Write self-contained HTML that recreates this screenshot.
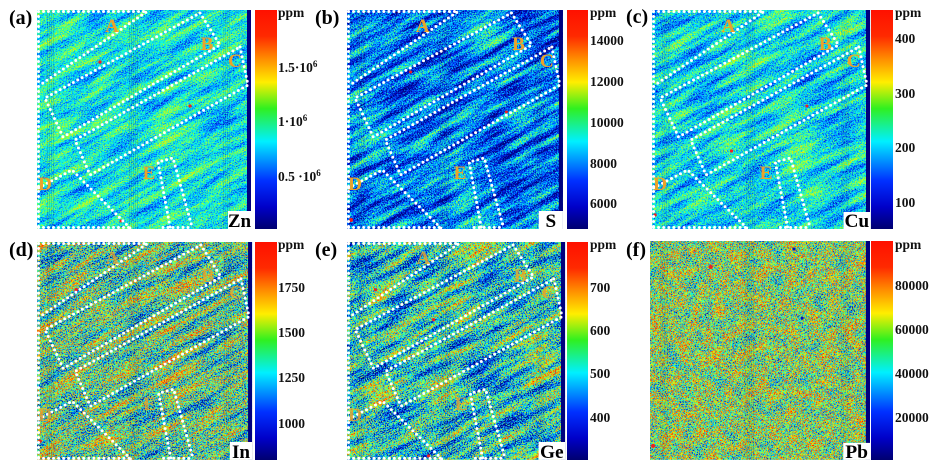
<!DOCTYPE html>
<html><head><meta charset="utf-8"><style>
html,body{margin:0;padding:0;background:#fff;width:945px;height:468px;overflow:hidden;}
svg{display:block;}
text{font-family:"Liberation Serif",serif;font-weight:bold;}
.tk{font-size:13.5px;fill:#111;}
.pl{font-size:20px;fill:#000;}
.el{font-size:19px;fill:#000;text-anchor:middle;}
.rg{font-size:19px;fill:#eba22a;text-anchor:middle;}
</style></head><body>
<svg width="945" height="468" viewBox="0 0 945 468" xmlns="http://www.w3.org/2000/svg" overflow="hidden">
<defs>
<linearGradient id="cb" x1="0" y1="0" x2="0" y2="1">
<stop offset="0" stop-color="#ff1000"/>
<stop offset="0.12" stop-color="#ff2a00"/>
<stop offset="0.22" stop-color="#ff8a00"/>
<stop offset="0.33" stop-color="#ffee00"/>
<stop offset="0.45" stop-color="#30f020"/>
<stop offset="0.6" stop-color="#00f0ff"/>
<stop offset="0.78" stop-color="#0030ff"/>
<stop offset="0.9" stop-color="#0000c8"/>
<stop offset="1" stop-color="#000070"/>
</linearGradient>
<pattern id="vs" width="2" height="4" patternUnits="userSpaceOnUse"><rect width="1" height="4" fill="#000"/></pattern>

<filter id="fa" x="0" y="0" width="1" height="1" color-interpolation-filters="sRGB">
<feTurbulence type="fractalNoise" baseFrequency="0.02 0.14" numOctaves="3" seed="2" result="t1"/>
<feColorMatrix in="t1" type="matrix" values="1 0 0 0 0 0 1 0 0 0 0 0 1 0 0 0 0 0 0 1" result="n1"/>
<feTurbulence type="fractalNoise" baseFrequency="0.9" numOctaves="1" seed="7" result="t2"/>
<feColorMatrix in="t2" type="matrix" values="1 0 0 0 0 0 1 0 0 0 0 0 1 0 0 0 0 0 0 1" result="n2"/>
<feComposite in="n1" in2="n2" operator="arithmetic" k1="0" k2="0.35" k3="0.65" k4="0" result="n"/>
<feColorMatrix in="n" type="matrix" values="1.4 0 0 0 -0.33 1.4 0 0 0 -0.33 1.4 0 0 0 -0.33 0 0 0 0 1"/>
<feComponentTransfer>
<feFuncR type="table" tableValues="0 0 0 0 0.4 1 1 1 1"/>
<feFuncG type="table" tableValues="0 0.1 0.55 1 1 1 0.6 0.2 0.05"/>
<feFuncB type="table" tableValues="0.45 1 1 1 0.3 0 0 0 0"/>
</feComponentTransfer>
</filter>
<filter id="fb" x="0" y="0" width="1" height="1" color-interpolation-filters="sRGB">
<feTurbulence type="fractalNoise" baseFrequency="0.02 0.14" numOctaves="3" seed="11" result="t1"/>
<feColorMatrix in="t1" type="matrix" values="1 0 0 0 0 0 1 0 0 0 0 0 1 0 0 0 0 0 0 1" result="n1"/>
<feTurbulence type="fractalNoise" baseFrequency="0.9" numOctaves="1" seed="17" result="t2"/>
<feColorMatrix in="t2" type="matrix" values="1 0 0 0 0 0 1 0 0 0 0 0 1 0 0 0 0 0 0 1" result="n2"/>
<feComposite in="n1" in2="n2" operator="arithmetic" k1="0" k2="0.4" k3="0.6" k4="0" result="n"/>
<feColorMatrix in="n" type="matrix" values="1.8 0 0 0 -0.67 1.8 0 0 0 -0.67 1.8 0 0 0 -0.67 0 0 0 0 1"/>
<feComponentTransfer>
<feFuncR type="table" tableValues="0 0 0 0 0.4 1 1 1 1"/>
<feFuncG type="table" tableValues="0 0.1 0.55 1 1 1 0.6 0.2 0.05"/>
<feFuncB type="table" tableValues="0.45 1 1 1 0.3 0 0 0 0"/>
</feComponentTransfer>
</filter>
<filter id="fc" x="0" y="0" width="1" height="1" color-interpolation-filters="sRGB">
<feTurbulence type="fractalNoise" baseFrequency="0.02 0.14" numOctaves="3" seed="23" result="t1"/>
<feColorMatrix in="t1" type="matrix" values="1 0 0 0 0 0 1 0 0 0 0 0 1 0 0 0 0 0 0 1" result="n1"/>
<feTurbulence type="fractalNoise" baseFrequency="0.9" numOctaves="1" seed="29" result="t2"/>
<feColorMatrix in="t2" type="matrix" values="1 0 0 0 0 0 1 0 0 0 0 0 1 0 0 0 0 0 0 1" result="n2"/>
<feComposite in="n1" in2="n2" operator="arithmetic" k1="0" k2="0.35" k3="0.65" k4="0" result="n"/>
<feColorMatrix in="n" type="matrix" values="1.5 0 0 0 -0.40 1.5 0 0 0 -0.40 1.5 0 0 0 -0.40 0 0 0 0 1"/>
<feComponentTransfer>
<feFuncR type="table" tableValues="0 0 0 0 0.4 1 1 1 1"/>
<feFuncG type="table" tableValues="0 0.1 0.55 1 1 1 0.6 0.2 0.05"/>
<feFuncB type="table" tableValues="0.45 1 1 1 0.3 0 0 0 0"/>
</feComponentTransfer>
</filter>
<filter id="fd" x="0" y="0" width="1" height="1" color-interpolation-filters="sRGB">
<feTurbulence type="fractalNoise" baseFrequency="0.02 0.14" numOctaves="3" seed="31" result="t1"/>
<feColorMatrix in="t1" type="matrix" values="1 0 0 0 0 0 1 0 0 0 0 0 1 0 0 0 0 0 0 1" result="n1"/>
<feTurbulence type="fractalNoise" baseFrequency="0.9" numOctaves="1" seed="37" result="t2"/>
<feColorMatrix in="t2" type="matrix" values="1 0 0 0 0 0 1 0 0 0 0 0 1 0 0 0 0 0 0 1" result="n2"/>
<feComposite in="n1" in2="n2" operator="arithmetic" k1="0" k2="0.3" k3="0.7" k4="0" result="n"/>
<feColorMatrix in="n" type="matrix" values="3.0 0 0 0 -1.05 3.0 0 0 0 -1.05 3.0 0 0 0 -1.05 0 0 0 0 1"/>
<feComponentTransfer>
<feFuncR type="table" tableValues="0 0 0 0 0.4 1 1 1 1"/>
<feFuncG type="table" tableValues="0 0.1 0.55 1 1 1 0.6 0.2 0.05"/>
<feFuncB type="table" tableValues="0.45 1 1 1 0.3 0 0 0 0"/>
</feComponentTransfer>
</filter>
<filter id="fe" x="0" y="0" width="1" height="1" color-interpolation-filters="sRGB">
<feTurbulence type="fractalNoise" baseFrequency="0.02 0.14" numOctaves="3" seed="41" result="t1"/>
<feColorMatrix in="t1" type="matrix" values="1 0 0 0 0 0 1 0 0 0 0 0 1 0 0 0 0 0 0 1" result="n1"/>
<feTurbulence type="fractalNoise" baseFrequency="0.9" numOctaves="1" seed="43" result="t2"/>
<feColorMatrix in="t2" type="matrix" values="1 0 0 0 0 0 1 0 0 0 0 0 1 0 0 0 0 0 0 1" result="n2"/>
<feComposite in="n1" in2="n2" operator="arithmetic" k1="0" k2="0.35" k3="0.65" k4="0" result="n"/>
<feColorMatrix in="n" type="matrix" values="2.7 0 0 0 -0.98 2.7 0 0 0 -0.98 2.7 0 0 0 -0.98 0 0 0 0 1"/>
<feComponentTransfer>
<feFuncR type="table" tableValues="0 0 0 0 0.4 1 1 1 1"/>
<feFuncG type="table" tableValues="0 0.1 0.55 1 1 1 0.6 0.2 0.05"/>
<feFuncB type="table" tableValues="0.45 1 1 1 0.3 0 0 0 0"/>
</feComponentTransfer>
</filter>
<filter id="ff" x="0" y="0" width="1" height="1" color-interpolation-filters="sRGB">
<feTurbulence type="fractalNoise" baseFrequency="0.08" numOctaves="2" seed="53" result="t1"/>
<feColorMatrix in="t1" type="matrix" values="1 0 0 0 0 0 1 0 0 0 0 0 1 0 0 0 0 0 0 1" result="n1"/>
<feTurbulence type="fractalNoise" baseFrequency="0.9" numOctaves="1" seed="59" result="t2"/>
<feColorMatrix in="t2" type="matrix" values="1 0 0 0 0 0 1 0 0 0 0 0 1 0 0 0 0 0 0 1" result="n2"/>
<feComposite in="n1" in2="n2" operator="arithmetic" k1="0" k2="0.2" k3="0.8" k4="0" result="n"/>
<feColorMatrix in="n" type="matrix" values="2.6 0 0 0 -0.78 2.6 0 0 0 -0.78 2.6 0 0 0 -0.78 0 0 0 0 1"/>
<feComponentTransfer>
<feFuncR type="table" tableValues="0 0 0 0 0.4 1 1 1 1"/>
<feFuncG type="table" tableValues="0 0.1 0.55 1 1 1 0.6 0.2 0.05"/>
<feFuncB type="table" tableValues="0.45 1 1 1 0.3 0 0 0 0"/>
</feComponentTransfer>
</filter>

<pattern id="pa" patternUnits="userSpaceOnUse" patternContentUnits="userSpaceOnUse" x="-200" y="-200" width="600" height="600" patternTransform="rotate(-29 107 110)"><rect x="0" y="0" width="600" height="600" filter="url(#fa)"/></pattern>
<pattern id="pb" patternUnits="userSpaceOnUse" patternContentUnits="userSpaceOnUse" x="-200" y="-200" width="600" height="600" patternTransform="rotate(-29 107 110)"><rect x="0" y="0" width="600" height="600" filter="url(#fb)"/></pattern>
<pattern id="pc" patternUnits="userSpaceOnUse" patternContentUnits="userSpaceOnUse" x="-200" y="-200" width="600" height="600" patternTransform="rotate(-29 107 110)"><rect x="0" y="0" width="600" height="600" filter="url(#fc)"/></pattern>
<pattern id="pd" patternUnits="userSpaceOnUse" patternContentUnits="userSpaceOnUse" x="-200" y="-200" width="600" height="600" patternTransform="rotate(-29 107 110)"><rect x="0" y="0" width="600" height="600" filter="url(#fd)"/></pattern>
<pattern id="pe" patternUnits="userSpaceOnUse" patternContentUnits="userSpaceOnUse" x="-200" y="-200" width="600" height="600" patternTransform="rotate(-29 107 110)"><rect x="0" y="0" width="600" height="600" filter="url(#fe)"/></pattern>
<pattern id="pf" patternUnits="userSpaceOnUse" patternContentUnits="userSpaceOnUse" x="-200" y="-200" width="600" height="600" patternTransform="rotate(-29 107 110)"><rect x="0" y="0" width="600" height="600" filter="url(#ff)"/></pattern>

<g id="dots" fill="none" stroke="#fff" stroke-width="3" stroke-linecap="round" stroke-dasharray="0 5">
<path d="M1.5,1.5 V217.5"/>
<path d="M1.5,1.5 H110 L3,75"/>
<path d="M1.5,217.5 H93"/>
<path d="M126,217.5 H156"/>
<path d="M163,3 L183,35 L26,127 L8,88 Z"/>
<path d="M203,37 L211,75 L53,165 L38,130 Z"/>
<path d="M1.5,178 L35,160 L93,218"/>
<path d="M133,217 L121,152 L136,148 L155,217"/>
</g>
<g id="strip">
<rect x="10" y="0" width="8" height="219" fill="url(#vs)" opacity="0.12"/>
<rect x="92" y="0" width="10" height="219" fill="url(#vs)" opacity="0.12"/>
<rect x="186" y="0" width="8" height="219" fill="url(#vs)" opacity="0.1"/>
<rect x="210" y="0" width="4" height="219" fill="#00007e"/>
</g>
</defs>

<rect width="945" height="468" fill="#fff"/>

<!-- (a) Zn -->
<g transform="translate(37,10)">
<rect width="214" height="219" fill="url(#pa)"/>
<use href="#strip"/>
<circle cx="63" cy="52" r="1.6" fill="#e22"/><circle cx="153" cy="96" r="1.6" fill="#e22"/><circle cx="84" cy="211" r="1.5" fill="#e22"/>
<use href="#dots"/>
<text class="rg" x="75" y="22">A</text><text class="rg" x="170" y="40">B</text><text class="rg" x="198" y="57">C</text><text class="rg" x="8" y="180">D</text><text class="rg" x="112" y="169">E</text>
<rect x="191" y="201" width="23" height="18" fill="#fff"/>
<text class="el" x="202.5" y="217">Zn</text>
</g>
<rect x="255" y="10" width="22" height="219" fill="url(#cb)"/>
<text class="pl" x="9" y="24">(a)</text>
<text class="tk" x="278" y="17">ppm</text>
<text class="tk" x="278" y="72">1.5·10<tspan font-size="9" dy="-5">6</tspan></text>
<text class="tk" x="278" y="126">1·10<tspan font-size="9" dy="-5">6</tspan></text>
<text class="tk" x="278" y="181">0.5 ·10<tspan font-size="9" dy="-5">6</tspan></text>

<!-- (b) S -->
<g transform="translate(347,10) scale(1.009,1)">
<rect width="214" height="219" fill="url(#pb)"/>
<use href="#strip"/>
<circle cx="4" cy="210" r="2" fill="#e22"/><circle cx="63" cy="62" r="1.5" fill="#e22"/><circle cx="158" cy="102" r="1.5" fill="#e22"/>
<use href="#dots"/>
<text class="rg" x="75" y="22">A</text><text class="rg" x="170" y="40">B</text><text class="rg" x="198" y="57">C</text><text class="rg" x="8" y="180">D</text><text class="rg" x="112" y="169">E</text>
<rect x="190" y="201" width="24" height="18" fill="#fff"/>
<text class="el" x="202" y="217">S</text>
</g>
<rect x="567" y="10" width="21" height="219" fill="url(#cb)"/>
<text class="pl" x="315" y="24">(b)</text>
<text class="tk" x="590" y="17">ppm</text>
<text class="tk" x="590" y="45">14000</text>
<text class="tk" x="590" y="86">12000</text>
<text class="tk" x="590" y="127">10000</text>
<text class="tk" x="590" y="168">8000</text>
<text class="tk" x="590" y="208">6000</text>

<!-- (c) Cu -->
<g transform="translate(652,10) scale(1.019,1)">
<rect width="214" height="219" fill="url(#pc)"/>
<use href="#strip"/>
<circle cx="78" cy="141" r="1.6" fill="#e22"/><circle cx="152" cy="96" r="1.5" fill="#e22"/><circle cx="3" cy="205" r="1.6" fill="#e22"/>
<use href="#dots"/>
<text class="rg" x="75" y="22">A</text><text class="rg" x="170" y="40">B</text><text class="rg" x="198" y="57">C</text><text class="rg" x="8" y="180">D</text><text class="rg" x="112" y="169">E</text>
<rect x="188" y="202" width="26" height="17" fill="#fff"/>
<text class="el" x="201" y="217">Cu</text>
</g>
<rect x="871" y="10" width="22" height="219" fill="url(#cb)"/>
<text class="pl" x="626" y="23">(c)</text>
<text class="tk" x="895" y="17">ppm</text>
<text class="tk" x="895" y="43">400</text>
<text class="tk" x="895" y="98">300</text>
<text class="tk" x="895" y="152">200</text>
<text class="tk" x="895" y="207">100</text>

<!-- (d) In -->
<g transform="translate(37,242) scale(1.005,0.995)">
<rect width="214" height="219" fill="url(#pd)"/>
<use href="#strip"/>
<circle cx="39" cy="48" r="1.8" fill="#e22"/><circle cx="3" cy="200" r="1.8" fill="#e22"/>
<use href="#dots"/>
<g opacity="0.75"><text class="rg" x="75" y="22">A</text><text class="rg" x="170" y="40">B</text><text class="rg" x="198" y="57">C</text><text class="rg" x="8" y="180">D</text><text class="rg" x="112" y="169">E</text></g>
<rect x="192" y="201" width="22" height="18" fill="#fff"/>
<text class="el" x="203" y="217">In</text>
</g>
<rect x="255" y="242" width="22" height="218" fill="url(#cb)"/>
<text class="pl" x="9" y="256">(d)</text>
<text class="tk" x="278" y="249">ppm</text>
<text class="tk" x="278" y="292">1750</text>
<text class="tk" x="278" y="337">1500</text>
<text class="tk" x="278" y="382">1250</text>
<text class="tk" x="278" y="428">1000</text>

<!-- (e) Ge -->
<g transform="translate(347,242) scale(1.019,0.995)">
<rect width="214" height="219" fill="url(#pe)"/>
<use href="#strip"/>
<circle cx="28" cy="48" r="1.6" fill="#e22"/><circle cx="85" cy="78" r="1.6" fill="#e22"/><circle cx="80" cy="215" r="1.6" fill="#e22"/>
<use href="#dots"/>
<g opacity="0.8"><text class="rg" x="75" y="22">A</text><text class="rg" x="170" y="40">B</text><text class="rg" x="198" y="57">C</text><text class="rg" x="8" y="180">D</text><text class="rg" x="112" y="169">E</text></g>
<rect x="188" y="201" width="26" height="18" fill="#fff"/>
<text class="el" x="201" y="217">Ge</text>
</g>
<rect x="567" y="242" width="21" height="218" fill="url(#cb)"/>
<text class="pl" x="315" y="256">(e)</text>
<text class="tk" x="590" y="249">ppm</text>
<text class="tk" x="590" y="292">700</text>
<text class="tk" x="590" y="335">600</text>
<text class="tk" x="590" y="378">500</text>
<text class="tk" x="590" y="422">400</text>

<!-- (f) Pb -->
<g transform="translate(650,241) scale(1.028,0.9995)">
<rect width="214" height="219" fill="url(#pf)"/>
<use href="#strip"/>
<circle cx="59" cy="26" r="2" fill="#e22"/><circle cx="3" cy="205" r="2" fill="#e22"/><circle cx="140" cy="8" r="1.5" fill="#0010c0"/><circle cx="148" cy="77" r="1.5" fill="#0010c0"/>
<rect x="188" y="202" width="26" height="17" fill="#fff"/>
<text class="el" x="201" y="217">Pb</text>
</g>
<rect x="871" y="241" width="22" height="219" fill="url(#cb)"/>
<text class="pl" x="626" y="256">(f)</text>
<text class="tk" x="895" y="249">ppm</text>
<text class="tk" x="895" y="290">80000</text>
<text class="tk" x="895" y="334">60000</text>
<text class="tk" x="895" y="378">40000</text>
<text class="tk" x="895" y="422">20000</text>
</svg>
</body></html>
